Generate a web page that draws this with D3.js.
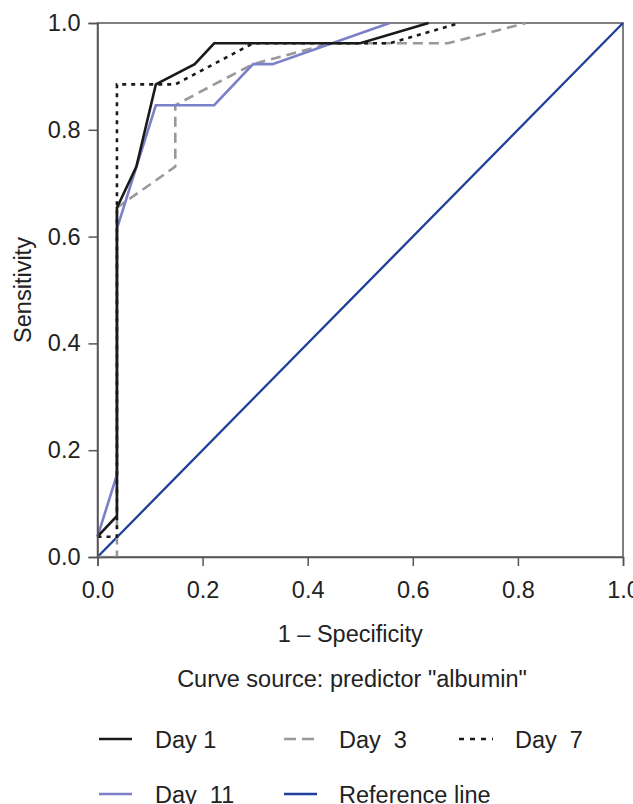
<!DOCTYPE html>
<html><head><meta charset="utf-8">
<script src="https://cdn.jsdelivr.net/npm/d3@7"></script>
<style>
body{margin:0;background:#fff;}
text{font-family:"Liberation Sans",Arial,sans-serif;fill:#222;}
</style></head>
<body><svg id="c" width="633" height="804"></svg>
<script>
// x = 1 - specificity, y = sensitivity
const day1X  = [0, 0.037, 0.037, 0.074, 0.111, 0.185, 0.222, 0.5, 0.63];
const day1Y  = [0.038, 0.077, 0.654, 0.731, 0.885, 0.923, 0.962, 0.962, 1.0];
const day3X  = [0, 0.037, 0.037, 0.148, 0.148, 0.222, 0.296, 0.444, 0.667, 0.815];
const day3Y  = [0, 0, 0.654, 0.731, 0.846, 0.885, 0.923, 0.962, 0.962, 1.0];
const day7X  = [0, 0.037, 0.037, 0.148, 0.296, 0.556, 0.69];
const day7Y  = [0.038, 0.038, 0.885, 0.885, 0.962, 0.962, 1.0];
const day11X = [0, 0.037, 0.037, 0.111, 0.222, 0.296, 0.333, 0.556];
const day11Y = [0.038, 0.154, 0.615, 0.846, 0.846, 0.923, 0.923, 1.0];
const refX = [0, 1];
const refY = [0, 1];
const tickVals = [0, 0.2, 0.4, 0.6, 0.8, 1.0];
const tickLabels = ["0.0", "0.2", "0.4", "0.6", "0.8", "1.0"];
const seriesNames = ["Day 1", "Day  3", "Day  7", "Day  11", "Reference line"];

const svg = d3.select("#c");
const L = 97.5, R = 623, T = 23, B = 557;
const FS = 23.5;
const x = d3.scaleLinear().domain([0, 1]).range([L, R]);
const y = d3.scaleLinear().domain([0, 1]).range([B, T]);
const axisCol = "#555";

const series = [
  {name: seriesNames[0], xs: day1X, ys: day1Y, color: "#1a1a1a", dash: null, ldash: null, w: 2.6},
  {name: seriesNames[1], xs: day3X, ys: day3Y, color: "#999999", dash: "10,6", ldash: "12,6", w: 2.6},
  {name: seriesNames[2], xs: day7X, ys: day7Y, color: "#1a1a1a", dash: "4,5", ldash: "5,6", w: 2.6},
  {name: seriesNames[3], xs: day11X, ys: day11Y, color: "#7b80c8", dash: null, ldash: null, w: 2.6},
  {name: seriesNames[4], xs: refX, ys: refY, color: "#1f3f9a", dash: null, ldash: null, w: 2.3}
];

// box
svg.append("rect").attr("x", L).attr("y", T).attr("width", R - L).attr("height", B - T)
  .attr("fill", "none").attr("stroke", axisCol).attr("stroke-width", 1.5);

const line = d3.line().x(d => x(d[0])).y(d => y(d[1]));
// draw order: reference, day3, day11, day7, day1
[4, 1, 3, 2, 0].forEach(i => {
  const s = series[i];
  svg.append("path").datum(s.xs.map((v, k) => [v, s.ys[k]]))
    .attr("d", line).attr("fill", "none").attr("stroke", s.color)
    .attr("stroke-width", s.w).attr("stroke-dasharray", s.dash)
    .attr("stroke-linejoin", "miter");
});

// axes
const fmt = (d) => tickLabels[tickVals.indexOf(d)];
const xAxis = svg.append("g").attr("transform", `translate(0,${B})`)
  .call(d3.axisBottom(x).tickValues(tickVals).tickFormat(fmt).tickSize(9).tickPadding(15));
const yAxis = svg.append("g").attr("transform", `translate(${L},0)`)
  .call(d3.axisLeft(y).tickValues(tickVals).tickFormat(fmt).tickSize(9).tickPadding(8));
[xAxis, yAxis].forEach(g => {
  g.select(".domain").attr("stroke", axisCol).attr("stroke-width", 1.5);
  g.selectAll(".tick line").attr("stroke", axisCol).attr("stroke-width", 1.5);
  g.selectAll(".tick text").attr("font-size", FS).attr("fill", "#222")
    .attr("font-family", "Liberation Sans, Arial, sans-serif");
});

svg.append("text").attr("x", (L + R) / 2 - 10).attr("y", 642).attr("text-anchor", "middle")
  .attr("font-size", FS).text("1 \u2013 Specificity");
svg.append("text").attr("transform", `translate(31,${(T + B) / 2}) rotate(-90)`)
  .attr("text-anchor", "middle").attr("font-size", FS).text("Sensitivity");
svg.append("text").attr("x", 352).attr("y", 687).attr("text-anchor", "middle")
  .attr("font-size", FS).text("Curve source: predictor \"albumin\"");

// legend
const legPos = [
  {x: 99, y: 739, len: 33}, {x: 284, y: 739, len: 30}, {x: 459, y: 739, len: 34},
  {x: 99, y: 794, len: 33}, {x: 284, y: 794, len: 33}
];
const legTextX = [155, 339, 515, 155, 339];
series.forEach((s, i) => {
  const p = legPos[i];
  svg.append("line").attr("x1", p.x).attr("x2", p.x + p.len).attr("y1", p.y).attr("y2", p.y)
    .attr("stroke", s.color).attr("stroke-width", s.w).attr("stroke-dasharray", s.ldash);
  svg.append("text").attr("x", legTextX[i]).attr("y", p.y + 8.5).attr("font-size", FS)
    .attr("xml:space", "preserve").style("white-space", "pre").text(s.name);
});
</script></body></html>
